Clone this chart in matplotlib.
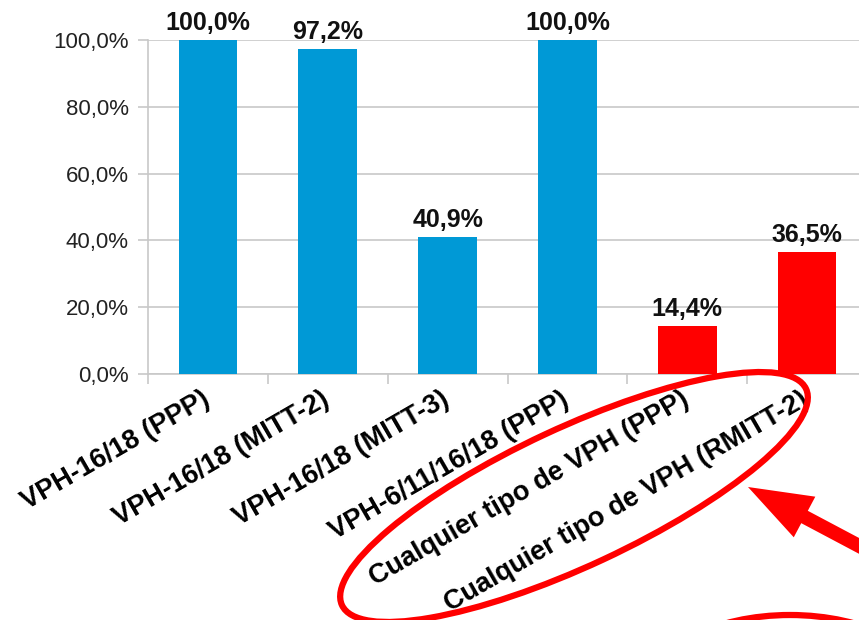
import matplotlib.pyplot as plt
from matplotlib.patches import Ellipse, FancyArrow
from matplotlib.transforms import ScaledTranslation
import numpy as np

plt.rcParams['font.family'] = ['Liberation Sans', 'DejaVu Sans']

categories = ['VPH-16/18 (PPP)', 'VPH-16/18 (MITT-2)', 'VPH-16/18 (MITT-3)',
              'VPH-6/11/16/18 (PPP)', 'Cualquier tipo de VPH (PPP)',
              'Cualquier tipo de VPH (RMITT-2)']
values = [100.0, 97.2, 40.9, 100.0, 14.4, 36.5]
bar_colors = ['#0099d6', '#0099d6', '#0099d6', '#0099d6', '#ff0000', '#ff0000']
y_ticks = [0, 20, 40, 60, 80, 100]

W, H = 859, 620
fig = plt.figure(figsize=(W / 100, H / 100), dpi=100)
ax = fig.add_axes([148 / W, 1 - 374 / H, (867 - 148) / W, (374 - 40) / H])

x = np.arange(len(categories))
ax.bar(x, values, width=0.49, color=bar_colors, zorder=3)
for xi, v in zip(x, values):
    ax.text(xi, v + 1.5, f'{v:.1f}%'.replace('.', ','), ha='center', va='bottom',
            fontsize=18, fontweight='bold', color='#111111')

ax.set_xlim(-0.5, len(categories) - 0.5)
ax.set_ylim(0, 100)
ax.set_yticks(y_ticks)
ax.set_yticklabels([f'{t:.1f}%'.replace('.', ',') for t in y_ticks],
                   fontsize=16, color='#222222')
ax.yaxis.grid(True, color='#c8c8c8', linewidth=1.2, zorder=0)

ax.set_xticks(x)
ax.set_xticks(np.arange(-0.5, len(categories)), minor=True)
ax.tick_params(axis='x', which='major', length=0, pad=9)
ax.tick_params(axis='x', which='minor', length=7, color='#c8c8c8', width=1.2)
ax.tick_params(axis='y', length=7, color='#c8c8c8', width=1.2, pad=7)
ax.set_xticklabels(categories, rotation=30, ha='right', va='top',
                   rotation_mode='anchor', fontsize=19.5, fontweight='bold')
# nudge the category labels a little to the left
shift = ScaledTranslation(-7 / 100, 0, fig.dpi_scale_trans)
for lab in ax.get_xticklabels():
    lab.set_transform(lab.get_transform() + shift)

for s in ['top', 'right']:
    ax.spines[s].set_visible(False)
for s in ['left', 'bottom']:
    ax.spines[s].set_color('#c8c8c8')
    ax.spines[s].set_linewidth(1.2)

# overlay annotations in pixel coordinates
ov = fig.add_axes([0, 0, 1, 1], zorder=10)
ov.set_xlim(0, W)
ov.set_ylim(H, 0)
ov.axis('off')
ov.patch.set_alpha(0)
ov.add_patch(Ellipse((574, 497), 512, 138, angle=-25, fill=False,
                     edgecolor='#ff0000', linewidth=4.5))
ov.add_patch(Ellipse((790, 690), 280, 150, angle=0, fill=False,
                     edgecolor='#ff0000', linewidth=4.5))
ov.add_patch(FancyArrow(880, 557, -132, -70, width=14, head_width=46,
                        head_length=64, length_includes_head=True,
                        color='#ff0000', linewidth=0))

fig.savefig('out.png', dpi=100)
